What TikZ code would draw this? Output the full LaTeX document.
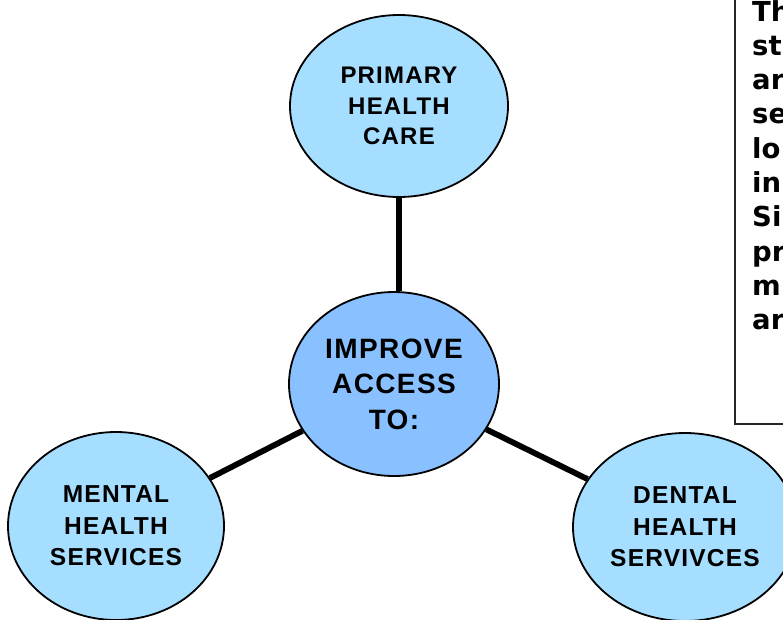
\documentclass[tikz,border=0pt]{standalone}
\usepackage{fontspec}
\setmainfont{Liberation Sans}
\newfontfamily\ovalfont[LetterSpace=5]{Liberation Sans}
\newfontfamily\notefont{DejaVu Sans}
\usetikzlibrary{shapes.geometric}

\definecolor{ovalblue}{RGB}{166,222,255}
\definecolor{hubblue}{RGB}{137,192,255}

\tikzset{
  oval/.style={ellipse, draw=black, line width=1.8pt, fill=ovalblue,
    inner sep=0pt, align=center,
    font=\ovalfont\bfseries\fontsize{24}{30.5}\selectfont},
  sideoval/.style={oval, font=\ovalfont\bfseries\fontsize{24.5}{31.5}\selectfont},
  hub/.style={oval, fill=hubblue,
    font=\ovalfont\bfseries\fontsize{28}{35.5}\selectfont},
  spoke/.style={line width=5.8pt},
  notebox/.style={draw=black!85, line width=1.2pt},
  notetext/.style={anchor=base west, inner sep=0pt,
    font=\notefont\bfseries\fontsize{27.5}{33}\selectfont}
}

\begin{document}
\begin{tikzpicture}[x=1pt, y=-1pt]
  \useasboundingbox (0,0) rectangle (783,619);
  \clip (0,0) rectangle (783,619);

  % centre and the three services around it
  \node[hub, minimum width=210pt, minimum height=184pt] (hub) at (394,384)
    {IMPROVE\\ACCESS\\TO:};
  \node[oval, minimum width=218pt, minimum height=182pt] (primary) at (399,106)
    {PRIMARY\\HEALTH\\CARE};
  \node[sideoval, minimum width=216pt, minimum height=188pt] (mental) at (116,526)
    {MENTAL\\HEALTH\\SERVICES};
  \node[sideoval, minimum width=224pt, minimum height=188pt] (dental) at (685,527)
    {DENTAL\\HEALTH\\SERVIVCES};

  % spokes
  \draw[spoke] (primary.south) -- (primary.south |- hub.north);
  \draw[spoke] (mental) -- (hub);
  \draw[spoke] (dental) -- (hub);

  % note box running off the right edge
  \draw[notebox] (735,-10) rectangle (820,424);
  \foreach \w [count=\k from 0] in {Th,st,ar,se,lo,in,Si,pr,m,ar}
    \node[notetext] (note\k) at (752,{21+34.3*\k}) {\w};
\end{tikzpicture}
\end{document}
